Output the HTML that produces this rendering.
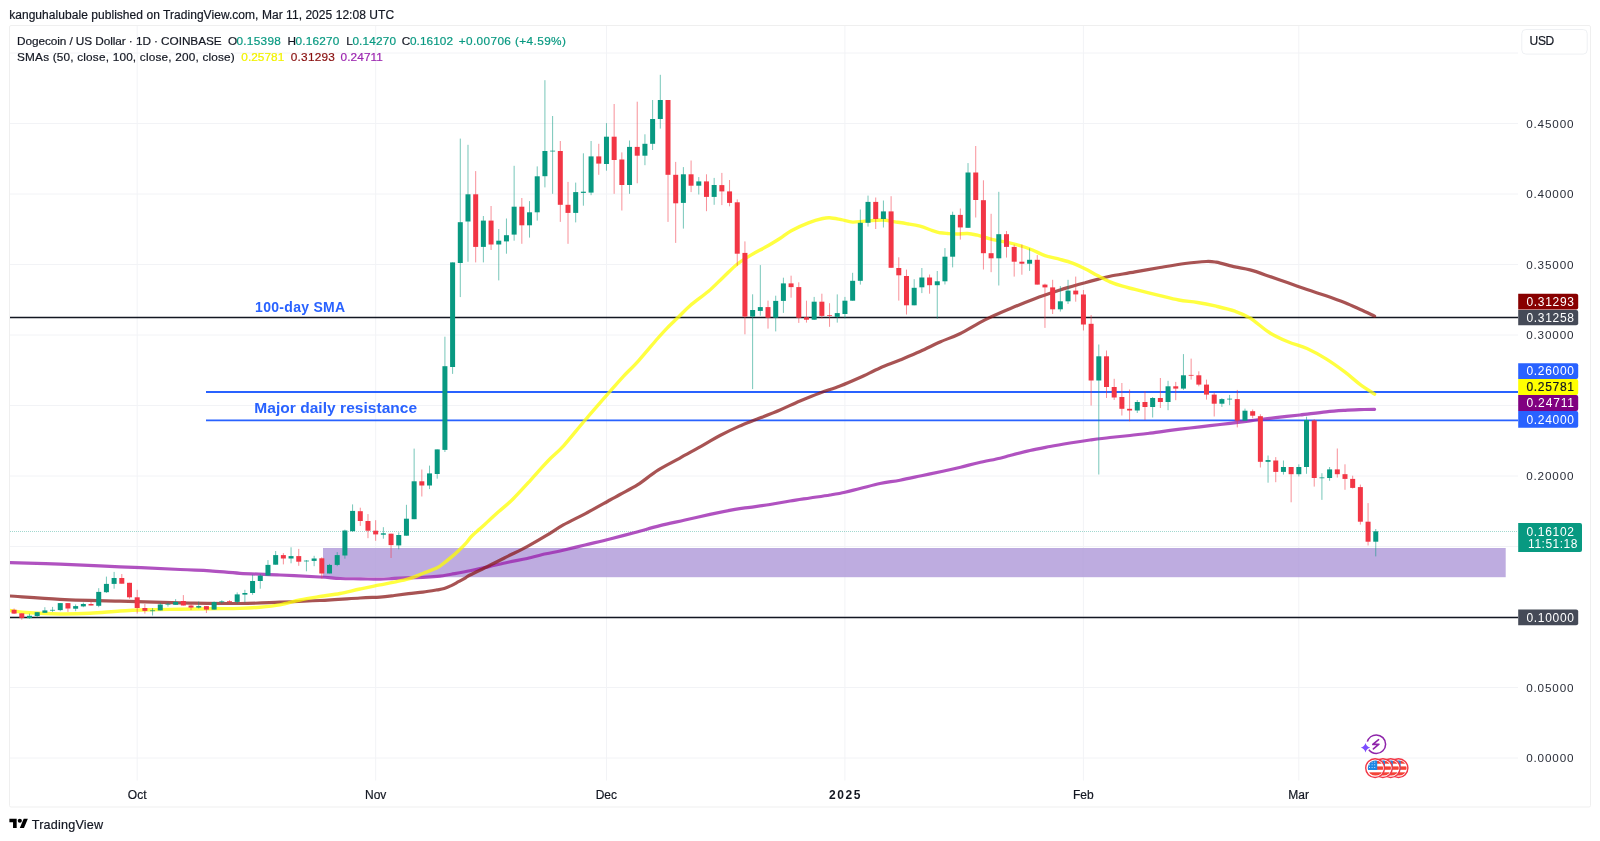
<!DOCTYPE html>
<html><head><meta charset="utf-8"><style>
html,body{margin:0;padding:0;background:#fff;width:1600px;height:841px;overflow:hidden}
svg{position:absolute;left:0;top:0;font-family:"Liberation Sans",sans-serif;will-change:transform}
</style></head><body>
<svg width="1600" height="841" viewBox="0 0 1600 841" font-family="Liberation Sans, sans-serif">
<rect x="9.5" y="25.5" width="1581" height="781.5" fill="none" stroke="#EFEFEF" stroke-width="1" rx="1.5"/>
<line x1="137.2" y1="26" x2="137.2" y2="780.5" stroke="#F2F3F6" stroke-width="1"/>
<line x1="375.7" y1="26" x2="375.7" y2="780.5" stroke="#F2F3F6" stroke-width="1"/>
<line x1="606.5" y1="26" x2="606.5" y2="780.5" stroke="#F2F3F6" stroke-width="1"/>
<line x1="844.9" y1="26" x2="844.9" y2="780.5" stroke="#F2F3F6" stroke-width="1"/>
<line x1="1083.4" y1="26" x2="1083.4" y2="780.5" stroke="#F2F3F6" stroke-width="1"/>
<line x1="1298.8" y1="26" x2="1298.8" y2="780.5" stroke="#F2F3F6" stroke-width="1"/>
<line x1="10" y1="758.0" x2="1518" y2="758.0" stroke="#F2F3F6" stroke-width="1"/>
<line x1="10" y1="687.5" x2="1518" y2="687.5" stroke="#F2F3F6" stroke-width="1"/>
<line x1="10" y1="617.0" x2="1518" y2="617.0" stroke="#F2F3F6" stroke-width="1"/>
<line x1="10" y1="546.5" x2="1518" y2="546.5" stroke="#F2F3F6" stroke-width="1"/>
<line x1="10" y1="476.0" x2="1518" y2="476.0" stroke="#F2F3F6" stroke-width="1"/>
<line x1="10" y1="405.5" x2="1518" y2="405.5" stroke="#F2F3F6" stroke-width="1"/>
<line x1="10" y1="335.0" x2="1518" y2="335.0" stroke="#F2F3F6" stroke-width="1"/>
<line x1="10" y1="264.5" x2="1518" y2="264.5" stroke="#F2F3F6" stroke-width="1"/>
<line x1="10" y1="194.0" x2="1518" y2="194.0" stroke="#F2F3F6" stroke-width="1"/>
<line x1="10" y1="123.5" x2="1518" y2="123.5" stroke="#F2F3F6" stroke-width="1"/>
<line x1="10" y1="53.0" x2="1518" y2="53.0" stroke="#F2F3F6" stroke-width="1"/>
<rect x="323" y="548" width="1182.7" height="29.2" fill="#B39DDB" fill-opacity="0.85"/>
<line x1="10" y1="317.5" x2="1518" y2="317.5" stroke="#131722" stroke-width="1.5"/>
<line x1="10" y1="617.5" x2="1518" y2="617.5" stroke="#131722" stroke-width="1.5"/>
<line x1="206" y1="392" x2="1518" y2="392" stroke="#2962FF" stroke-width="1.8"/>
<line x1="206" y1="420.3" x2="1518" y2="420.3" stroke="#2962FF" stroke-width="1.8"/>
<line x1="10" y1="531.5" x2="1518" y2="531.5" stroke="#089981" stroke-width="1" stroke-dasharray="1,1" opacity="0.38"/>
<clipPath id="plot"><rect x="10" y="26" width="1508" height="754"/></clipPath><g clip-path="url(#plot)">
<path d="M9.8,562.7 C18.1,563.0 41.6,563.5 60.0,564.2 C78.4,564.9 100.0,565.9 120.0,566.8 C140.0,567.6 165.0,568.8 180.0,569.5 C195.0,570.2 200.0,570.2 210.0,570.8 C220.0,571.4 228.3,572.6 240.0,573.3 C251.7,574.0 266.7,574.4 280.0,575.0 C293.3,575.6 310.0,576.4 320.0,577.0 C330.0,577.6 333.3,578.2 340.0,578.5 C346.7,578.8 353.3,578.7 360.0,578.8 C366.7,578.9 374.3,579.3 380.0,579.2 C385.7,579.1 389.6,578.6 394.3,578.4 C399.1,578.2 403.8,578.0 408.5,577.8 C413.2,577.6 418.0,577.6 422.8,577.4 C427.6,577.2 432.4,576.9 437.1,576.4 C441.9,575.9 445.8,575.2 451.3,574.2 C456.8,573.2 463.7,572.0 470.0,570.7 C476.3,569.4 482.6,568.0 489.0,566.6 C495.4,565.2 501.8,563.6 508.1,562.3 C514.5,560.9 520.8,559.9 527.1,558.5 C533.4,557.1 540.6,555.0 546.1,553.8 C551.6,552.5 553.5,552.5 560.0,551.0 C566.5,549.5 576.7,547.0 585.0,545.0 C593.3,543.0 601.7,541.1 610.0,539.0 C618.3,536.9 626.7,534.7 635.0,532.5 C643.3,530.3 651.7,527.7 660.0,525.6 C668.3,523.5 676.7,521.9 685.0,520.0 C693.3,518.1 701.7,516.2 710.0,514.4 C718.3,512.6 728.3,510.6 735.0,509.4 C741.7,508.2 744.2,508.1 750.0,507.3 C755.8,506.5 763.3,505.6 770.0,504.5 C776.7,503.4 783.3,502.1 790.0,501.0 C796.7,499.9 803.3,499.0 810.0,498.0 C816.7,497.0 824.2,496.0 830.0,495.0 C835.8,494.0 840.0,493.3 845.0,492.2 C850.0,491.1 854.2,489.9 860.0,488.5 C865.8,487.1 873.3,484.9 880.0,483.5 C886.7,482.1 893.1,481.5 900.0,480.2 C906.9,478.9 914.3,477.2 921.4,475.7 C928.5,474.2 936.3,472.6 942.8,471.2 C949.3,469.8 954.6,468.6 960.6,467.2 C966.6,465.8 971.9,464.2 978.5,462.7 C985.1,461.2 994.8,459.4 1000.0,458.2 C1005.2,457.0 1005.0,456.8 1010.0,455.5 C1015.0,454.2 1023.3,452.0 1030.0,450.5 C1036.7,449.0 1043.3,447.8 1050.0,446.5 C1056.7,445.2 1063.3,444.1 1070.0,443.0 C1076.7,441.9 1083.3,440.9 1090.0,440.0 C1096.7,439.1 1103.3,438.2 1110.0,437.5 C1116.7,436.8 1123.3,436.2 1130.0,435.5 C1136.7,434.8 1145.0,433.8 1150.0,433.2 C1155.0,432.6 1155.0,432.5 1160.0,431.8 C1165.0,431.1 1173.3,430.0 1180.0,429.2 C1186.7,428.4 1193.3,427.6 1200.0,426.8 C1206.7,426.0 1213.3,425.3 1220.0,424.5 C1226.7,423.7 1233.3,423.0 1240.0,422.2 C1246.7,421.4 1253.3,420.3 1260.0,419.5 C1266.7,418.7 1273.3,417.9 1280.0,417.2 C1286.7,416.4 1292.3,415.9 1300.0,415.0 C1307.7,414.1 1318.6,412.6 1326.1,411.8 C1333.6,411.0 1338.8,410.7 1345.1,410.3 C1351.4,409.9 1359.2,409.7 1364.1,409.5 C1369.0,409.3 1372.8,409.3 1374.6,409.3" fill="none" stroke="#9C27B0" stroke-opacity="0.8" stroke-width="3.2" stroke-linejoin="round" stroke-linecap="round"/>
<path d="M9.8,596.0 C18.1,596.5 41.6,598.4 60.0,599.3 C78.4,600.2 100.0,600.7 120.0,601.2 C140.0,601.8 160.0,602.4 180.0,602.8 C200.0,603.1 223.3,603.6 240.0,603.5 C256.7,603.4 266.7,602.7 280.0,602.2 C293.3,601.7 306.7,601.2 320.0,600.5 C333.3,599.8 350.0,598.6 360.0,598.0 C370.0,597.4 374.3,597.5 380.0,597.1 C385.7,596.7 389.6,596.1 394.3,595.5 C399.1,594.9 403.8,594.2 408.5,593.6 C413.2,593.0 418.0,592.7 422.8,592.1 C427.6,591.5 433.5,590.5 437.1,589.9 C440.7,589.3 441.8,589.2 444.2,588.5 C446.6,587.8 448.9,586.7 451.3,585.6 C453.7,584.5 456.1,583.0 458.5,581.7 C460.9,580.4 463.7,578.9 465.6,577.8 C467.5,576.7 466.1,577.0 470.0,575.0 C473.9,573.0 482.6,568.9 489.0,565.7 C495.4,562.6 501.8,559.3 508.1,556.1 C514.5,552.9 520.8,550.0 527.1,546.6 C533.4,543.2 540.1,539.3 546.1,535.7 C552.1,532.1 556.8,528.6 563.3,524.9 C569.8,521.2 577.2,517.9 585.0,513.8 C592.8,509.6 604.2,503.2 610.0,500.0 C615.8,496.8 615.4,497.1 620.0,494.5 C624.6,491.9 631.5,488.8 637.8,484.7 C644.1,480.6 651.0,474.6 658.0,470.2 C665.0,465.8 672.0,462.5 679.5,458.3 C687.0,454.1 696.5,449.0 703.2,445.2 C710.0,441.4 714.0,438.6 720.0,435.5 C726.0,432.4 732.8,429.1 738.9,426.4 C745.0,423.7 749.9,422.0 756.7,419.3 C763.6,416.6 772.8,413.1 780.0,410.0 C787.2,406.9 793.3,403.8 800.0,401.0 C806.7,398.2 813.3,395.5 820.0,393.0 C826.7,390.5 833.3,388.6 840.0,386.0 C846.7,383.4 853.3,380.5 860.0,377.5 C866.7,374.5 873.3,370.9 880.0,368.0 C886.7,365.1 893.3,362.8 900.0,360.0 C906.7,357.2 913.3,354.5 920.0,351.5 C926.7,348.5 933.4,345.0 940.0,342.0 C946.6,339.0 952.4,337.4 959.9,333.7 C967.4,330.0 976.6,324.1 984.9,319.9 C993.2,315.7 1001.6,312.2 1009.9,308.7 C1018.2,305.2 1026.5,301.8 1034.8,298.7 C1043.1,295.6 1053.7,292.1 1060.0,290.0 C1066.3,287.9 1068.3,287.5 1072.5,286.2 C1076.7,285.0 1080.8,283.9 1085.0,282.8 C1089.2,281.6 1093.3,280.5 1097.5,279.4 C1101.7,278.3 1103.8,277.5 1110.0,276.2 C1116.2,275.0 1126.7,273.4 1135.0,271.9 C1143.3,270.4 1151.7,268.9 1160.0,267.5 C1168.3,266.1 1177.3,264.5 1185.0,263.5 C1192.7,262.5 1201.0,261.7 1206.2,261.5 C1211.5,261.3 1211.5,261.4 1216.2,262.2 C1221.0,263.1 1229.4,265.6 1235.0,266.9 C1240.6,268.2 1244.3,268.3 1250.0,269.9 C1255.7,271.4 1262.7,274.0 1269.0,276.2 C1275.3,278.4 1281.7,280.6 1288.0,282.8 C1294.3,285.0 1300.7,287.3 1307.0,289.5 C1313.3,291.7 1319.8,293.6 1326.1,295.8 C1332.4,298.0 1339.4,300.5 1345.1,302.8 C1350.8,305.1 1355.4,307.3 1360.3,309.5 C1365.2,311.7 1372.2,315.0 1374.6,316.1" fill="none" stroke="#8B1A1A" stroke-opacity="0.75" stroke-width="3.2" stroke-linejoin="round" stroke-linecap="round"/>
<path d="M9.8,610.5 C13.1,610.9 21.6,612.2 30.0,612.8 C38.4,613.4 50.0,613.9 60.0,614.0 C70.0,614.1 80.0,613.8 90.0,613.2 C100.0,612.8 110.0,611.6 120.0,611.0 C130.0,610.4 140.0,610.1 150.0,609.8 C160.0,609.5 170.0,609.4 180.0,609.2 C190.0,609.0 200.0,608.9 210.0,608.8 C220.0,608.6 231.7,608.7 240.0,608.4 C248.3,608.1 253.3,607.8 260.0,607.2 C266.7,606.6 273.3,606.0 280.0,604.8 C286.7,603.6 293.3,601.4 300.0,600.0 C306.7,598.6 313.3,597.6 320.0,596.5 C326.7,595.4 333.3,594.8 340.0,593.5 C346.7,592.2 353.3,590.4 360.0,589.0 C366.7,587.6 374.3,586.0 380.0,584.9 C385.7,583.8 389.6,583.1 394.3,582.1 C399.1,581.1 403.8,580.3 408.5,578.9 C413.2,577.5 418.0,575.4 422.8,573.5 C427.6,571.6 433.5,569.6 437.1,567.8 C440.7,566.0 441.8,564.6 444.2,562.8 C446.6,561.0 448.9,559.1 451.3,557.1 C453.7,555.1 456.1,553.0 458.5,550.7 C460.9,548.5 463.4,546.0 465.6,543.6 C467.8,541.2 469.2,538.7 471.6,536.2 C474.0,533.7 477.0,531.4 479.9,528.8 C482.8,526.2 485.9,523.3 489.0,520.5 C492.1,517.7 494.5,515.4 498.5,511.8 C502.5,508.2 507.8,504.2 513.0,499.0 C518.2,493.8 525.8,485.4 530.0,480.8 C534.2,476.2 535.1,475.2 538.2,471.7 C541.4,468.2 544.6,464.4 548.9,460.0 C553.2,455.6 557.8,452.3 563.8,445.6 C569.8,438.9 577.6,428.9 585.2,420.0 C592.8,411.1 603.3,399.1 609.6,391.9 C615.9,384.7 618.4,381.8 623.2,376.6 C628.1,371.4 633.0,367.0 638.7,360.6 C644.4,354.2 652.9,343.9 657.6,338.5 C662.3,333.1 663.6,331.7 667.1,328.1 C670.6,324.5 674.7,320.7 678.5,317.0 C682.3,313.3 685.0,310.0 690.0,305.7 C695.0,301.4 703.0,296.0 708.5,291.3 C714.0,286.6 718.0,282.2 722.8,277.7 C727.6,273.2 732.4,268.0 737.1,264.2 C741.9,260.4 746.5,257.8 751.3,254.9 C756.0,252.1 760.8,249.8 765.6,247.1 C770.4,244.4 775.6,241.2 779.9,238.5 C784.2,235.8 786.5,233.3 791.3,230.7 C796.0,228.1 803.2,224.8 808.4,222.8 C813.6,220.8 819.1,219.3 822.7,218.5 C826.3,217.7 826.7,217.6 829.8,217.8 C832.9,218.0 837.4,219.0 841.2,219.7 C845.0,220.4 848.6,221.9 852.6,222.1 C856.6,222.3 860.4,221.4 865.4,221.1 C870.4,220.8 877.6,219.9 882.5,220.0 C887.4,220.1 890.8,221.3 895.0,221.9 C899.2,222.5 903.3,223.0 907.5,223.8 C911.7,224.5 915.8,225.1 920.0,226.2 C924.2,227.4 929.2,229.5 932.5,230.6 C935.8,231.7 937.5,232.3 940.0,232.8 C942.5,233.2 944.6,233.3 947.5,233.5 C950.4,233.7 954.2,234.0 957.5,234.0 C960.8,234.0 964.2,233.3 967.5,233.5 C970.8,233.7 973.8,234.4 977.5,235.2 C981.2,236.1 985.0,237.5 990.0,238.8 C995.0,240.0 1002.5,241.4 1007.5,242.5 C1012.5,243.6 1015.8,244.3 1020.0,245.6 C1024.2,246.8 1028.3,248.3 1032.5,250.0 C1036.7,251.7 1040.4,254.0 1045.0,255.6 C1049.6,257.2 1055.4,258.1 1060.0,259.4 C1064.6,260.6 1068.3,261.5 1072.5,263.1 C1076.7,264.7 1080.8,266.7 1085.0,268.8 C1089.2,270.8 1093.3,273.4 1097.5,275.6 C1101.7,277.8 1105.8,280.1 1110.0,281.9 C1114.2,283.7 1118.3,285.0 1122.5,286.2 C1126.7,287.5 1128.8,287.8 1135.0,289.4 C1141.2,291.0 1152.7,293.8 1160.0,295.6 C1167.3,297.4 1172.5,298.9 1178.8,300.0 C1185.0,301.1 1191.2,301.5 1197.5,302.5 C1203.8,303.5 1210.0,304.8 1216.2,306.2 C1222.5,307.7 1229.4,309.3 1235.0,311.2 C1240.6,313.2 1244.3,314.5 1250.0,318.0 C1255.7,321.5 1262.7,328.3 1269.0,332.3 C1275.3,336.3 1281.7,339.1 1288.0,341.8 C1294.3,344.5 1300.7,345.6 1307.0,348.5 C1313.3,351.4 1319.8,354.9 1326.1,358.9 C1332.4,362.8 1339.4,367.9 1345.1,372.2 C1350.8,376.5 1355.4,381.0 1360.3,384.6 C1365.2,388.2 1372.2,392.5 1374.6,394.1" fill="none" stroke="#FFFF00" stroke-opacity="0.75" stroke-width="3.4" stroke-linejoin="round" stroke-linecap="round"/>
<line x1="14.10" y1="608.5" x2="14.10" y2="614.0" stroke="#F23645" stroke-width="1" opacity="0.55"/>
<rect x="11.60" y="609.8" width="5.0" height="3.8" fill="#F23645"/>
<line x1="21.79" y1="613.3" x2="21.79" y2="619.7" stroke="#F23645" stroke-width="1" opacity="0.55"/>
<rect x="19.29" y="613.3" width="5.0" height="4.6" fill="#F23645"/>
<line x1="29.49" y1="613.6" x2="29.49" y2="618.7" stroke="#089981" stroke-width="1" opacity="0.55"/>
<rect x="26.99" y="615.8" width="5.0" height="2.3" fill="#089981"/>
<line x1="37.18" y1="612.2" x2="37.18" y2="617.3" stroke="#089981" stroke-width="1" opacity="0.55"/>
<rect x="34.68" y="612.2" width="5.0" height="3.8" fill="#089981"/>
<line x1="44.87" y1="607.2" x2="44.87" y2="612.8" stroke="#089981" stroke-width="1" opacity="0.55"/>
<rect x="42.37" y="610.4" width="5.0" height="2.4" fill="#089981"/>
<line x1="52.56" y1="606.9" x2="52.56" y2="611.9" stroke="#089981" stroke-width="1" opacity="0.55"/>
<rect x="50.06" y="609.8" width="5.0" height="1" fill="#089981" opacity="0.75"/>
<line x1="60.26" y1="603.1" x2="60.26" y2="611.2" stroke="#089981" stroke-width="1" opacity="0.55"/>
<rect x="57.76" y="603.1" width="5.0" height="7.0" fill="#089981"/>
<line x1="67.95" y1="603.1" x2="67.95" y2="611.9" stroke="#F23645" stroke-width="1" opacity="0.55"/>
<rect x="65.45" y="603.1" width="5.0" height="5.4" fill="#F23645"/>
<line x1="75.64" y1="604.4" x2="75.64" y2="611.2" stroke="#089981" stroke-width="1" opacity="0.55"/>
<rect x="73.14" y="606.1" width="5.0" height="2.6" fill="#089981"/>
<line x1="83.34" y1="602.6" x2="83.34" y2="607.2" stroke="#089981" stroke-width="1" opacity="0.55"/>
<rect x="80.84" y="604.0" width="5.0" height="2.4" fill="#089981"/>
<line x1="91.03" y1="601.5" x2="91.03" y2="605.5" stroke="#F23645" stroke-width="1" opacity="0.55"/>
<rect x="88.53" y="604.0" width="5.0" height="1.5" fill="#F23645"/>
<line x1="98.72" y1="588.2" x2="98.72" y2="607.2" stroke="#089981" stroke-width="1" opacity="0.55"/>
<rect x="96.22" y="591.9" width="5.0" height="13.9" fill="#089981"/>
<line x1="106.42" y1="576.6" x2="106.42" y2="593.0" stroke="#089981" stroke-width="1" opacity="0.55"/>
<rect x="103.92" y="583.9" width="5.0" height="8.3" fill="#089981"/>
<line x1="114.11" y1="571.9" x2="114.11" y2="588.7" stroke="#089981" stroke-width="1" opacity="0.55"/>
<rect x="111.61" y="578.0" width="5.0" height="5.9" fill="#089981"/>
<line x1="121.80" y1="574.0" x2="121.80" y2="583.7" stroke="#F23645" stroke-width="1" opacity="0.55"/>
<rect x="119.30" y="578.0" width="5.0" height="5.7" fill="#F23645"/>
<line x1="129.50" y1="582.8" x2="129.50" y2="598.7" stroke="#F23645" stroke-width="1" opacity="0.55"/>
<rect x="127.00" y="582.8" width="5.0" height="14.5" fill="#F23645"/>
<line x1="137.19" y1="589.8" x2="137.19" y2="613.6" stroke="#F23645" stroke-width="1" opacity="0.55"/>
<rect x="134.69" y="597.3" width="5.0" height="10.7" fill="#F23645"/>
<line x1="144.88" y1="604.0" x2="144.88" y2="613.6" stroke="#F23645" stroke-width="1" opacity="0.55"/>
<rect x="142.38" y="608.0" width="5.0" height="2.9" fill="#F23645"/>
<line x1="152.57" y1="608.0" x2="152.57" y2="615.5" stroke="#089981" stroke-width="1" opacity="0.55"/>
<rect x="150.07" y="610.2" width="5.0" height="1" fill="#089981" opacity="0.75"/>
<line x1="160.27" y1="602.6" x2="160.27" y2="610.4" stroke="#089981" stroke-width="1" opacity="0.55"/>
<rect x="157.77" y="604.5" width="5.0" height="5.9" fill="#089981"/>
<line x1="167.96" y1="602.6" x2="167.96" y2="606.6" stroke="#089981" stroke-width="1" opacity="0.55"/>
<rect x="165.46" y="603.8" width="5.0" height="1" fill="#089981" opacity="0.75"/>
<line x1="175.65" y1="599.1" x2="175.65" y2="604.8" stroke="#089981" stroke-width="1" opacity="0.55"/>
<rect x="173.15" y="601.9" width="5.0" height="2.9" fill="#089981"/>
<line x1="183.35" y1="595.1" x2="183.35" y2="605.5" stroke="#F23645" stroke-width="1" opacity="0.55"/>
<rect x="180.85" y="601.0" width="5.0" height="4.5" fill="#F23645"/>
<line x1="191.04" y1="604.2" x2="191.04" y2="610.1" stroke="#F23645" stroke-width="1" opacity="0.55"/>
<rect x="188.54" y="605.5" width="5.0" height="2.1" fill="#F23645"/>
<line x1="198.73" y1="601.5" x2="198.73" y2="608.5" stroke="#089981" stroke-width="1" opacity="0.55"/>
<rect x="196.23" y="606.1" width="5.0" height="1.5" fill="#089981"/>
<line x1="206.42" y1="606.1" x2="206.42" y2="613.0" stroke="#F23645" stroke-width="1" opacity="0.55"/>
<rect x="203.92" y="606.1" width="5.0" height="3.5" fill="#F23645"/>
<line x1="214.12" y1="601.5" x2="214.12" y2="609.6" stroke="#089981" stroke-width="1" opacity="0.55"/>
<rect x="211.62" y="602.1" width="5.0" height="7.5" fill="#089981"/>
<line x1="221.81" y1="600.2" x2="221.81" y2="603.7" stroke="#089981" stroke-width="1" opacity="0.55"/>
<rect x="219.31" y="601.2" width="5.0" height="1" fill="#089981" opacity="0.75"/>
<line x1="229.50" y1="600.2" x2="229.50" y2="604.0" stroke="#F23645" stroke-width="1" opacity="0.55"/>
<rect x="227.00" y="601.0" width="5.0" height="1" fill="#F23645" opacity="0.75"/>
<line x1="237.20" y1="592.4" x2="237.20" y2="604.0" stroke="#089981" stroke-width="1" opacity="0.55"/>
<rect x="234.70" y="594.4" width="5.0" height="7.5" fill="#089981"/>
<line x1="244.89" y1="589.8" x2="244.89" y2="602.6" stroke="#089981" stroke-width="1" opacity="0.55"/>
<rect x="242.39" y="593.0" width="5.0" height="1.6" fill="#089981"/>
<line x1="252.58" y1="574.8" x2="252.58" y2="594.8" stroke="#089981" stroke-width="1" opacity="0.55"/>
<rect x="250.08" y="581.0" width="5.0" height="12.0" fill="#089981"/>
<line x1="260.28" y1="574.0" x2="260.28" y2="588.7" stroke="#089981" stroke-width="1" opacity="0.55"/>
<rect x="257.78" y="575.6" width="5.0" height="5.4" fill="#089981"/>
<line x1="267.97" y1="560.1" x2="267.97" y2="575.6" stroke="#089981" stroke-width="1" opacity="0.55"/>
<rect x="265.47" y="564.9" width="5.0" height="10.7" fill="#089981"/>
<line x1="275.66" y1="551.0" x2="275.66" y2="564.7" stroke="#089981" stroke-width="1" opacity="0.55"/>
<rect x="273.16" y="555.1" width="5.0" height="9.6" fill="#089981"/>
<line x1="283.36" y1="553.1" x2="283.36" y2="564.4" stroke="#F23645" stroke-width="1" opacity="0.55"/>
<rect x="280.86" y="555.1" width="5.0" height="3.4" fill="#F23645"/>
<line x1="291.05" y1="547.3" x2="291.05" y2="563.3" stroke="#089981" stroke-width="1" opacity="0.55"/>
<rect x="288.55" y="556.1" width="5.0" height="2.4" fill="#089981"/>
<line x1="298.74" y1="548.9" x2="298.74" y2="565.8" stroke="#F23645" stroke-width="1" opacity="0.55"/>
<rect x="296.24" y="556.1" width="5.0" height="5.6" fill="#F23645"/>
<line x1="306.43" y1="560.0" x2="306.43" y2="571.3" stroke="#089981" stroke-width="1" opacity="0.55"/>
<rect x="303.93" y="560.5" width="5.0" height="1" fill="#089981" opacity="0.75"/>
<line x1="314.13" y1="555.8" x2="314.13" y2="566.2" stroke="#089981" stroke-width="1" opacity="0.55"/>
<rect x="311.63" y="558.5" width="5.0" height="2.4" fill="#089981"/>
<line x1="321.82" y1="557.2" x2="321.82" y2="578.6" stroke="#F23645" stroke-width="1" opacity="0.55"/>
<rect x="319.32" y="558.3" width="5.0" height="15.2" fill="#F23645"/>
<line x1="329.51" y1="563.9" x2="329.51" y2="573.5" stroke="#089981" stroke-width="1" opacity="0.55"/>
<rect x="327.01" y="564.9" width="5.0" height="8.6" fill="#089981"/>
<line x1="337.21" y1="552.1" x2="337.21" y2="566.2" stroke="#089981" stroke-width="1" opacity="0.55"/>
<rect x="334.71" y="555.1" width="5.0" height="9.8" fill="#089981"/>
<line x1="344.90" y1="529.6" x2="344.90" y2="558.7" stroke="#089981" stroke-width="1" opacity="0.55"/>
<rect x="342.40" y="530.5" width="5.0" height="25.0" fill="#089981"/>
<line x1="352.59" y1="504.4" x2="352.59" y2="531.8" stroke="#089981" stroke-width="1" opacity="0.55"/>
<rect x="350.09" y="510.9" width="5.0" height="20.3" fill="#089981"/>
<line x1="360.29" y1="507.7" x2="360.29" y2="525.9" stroke="#F23645" stroke-width="1" opacity="0.55"/>
<rect x="357.79" y="511.2" width="5.0" height="9.8" fill="#F23645"/>
<line x1="367.98" y1="514.1" x2="367.98" y2="538.2" stroke="#F23645" stroke-width="1" opacity="0.55"/>
<rect x="365.48" y="521.0" width="5.0" height="9.7" fill="#F23645"/>
<line x1="375.67" y1="520.2" x2="375.67" y2="540.8" stroke="#F23645" stroke-width="1" opacity="0.55"/>
<rect x="373.17" y="530.7" width="5.0" height="3.7" fill="#F23645"/>
<line x1="383.36" y1="527.2" x2="383.36" y2="538.7" stroke="#089981" stroke-width="1" opacity="0.55"/>
<rect x="380.86" y="533.3" width="5.0" height="1.4" fill="#089981"/>
<line x1="391.06" y1="533.7" x2="391.06" y2="558.0" stroke="#F23645" stroke-width="1" opacity="0.55"/>
<rect x="388.56" y="533.7" width="5.0" height="11.4" fill="#F23645"/>
<line x1="398.75" y1="532.3" x2="398.75" y2="549.3" stroke="#089981" stroke-width="1" opacity="0.55"/>
<rect x="396.25" y="535.0" width="5.0" height="10.4" fill="#089981"/>
<line x1="406.44" y1="504.8" x2="406.44" y2="535.7" stroke="#089981" stroke-width="1" opacity="0.55"/>
<rect x="403.94" y="518.7" width="5.0" height="17.0" fill="#089981"/>
<line x1="414.14" y1="448.6" x2="414.14" y2="519.2" stroke="#089981" stroke-width="1" opacity="0.55"/>
<rect x="411.64" y="481.3" width="5.0" height="37.9" fill="#089981"/>
<line x1="421.83" y1="469.5" x2="421.83" y2="496.5" stroke="#F23645" stroke-width="1" opacity="0.55"/>
<rect x="419.33" y="481.3" width="5.0" height="4.2" fill="#F23645"/>
<line x1="429.52" y1="465.6" x2="429.52" y2="489.1" stroke="#089981" stroke-width="1" opacity="0.55"/>
<rect x="427.02" y="473.4" width="5.0" height="12.1" fill="#089981"/>
<line x1="437.21" y1="449.4" x2="437.21" y2="478.7" stroke="#089981" stroke-width="1" opacity="0.55"/>
<rect x="434.71" y="449.4" width="5.0" height="24.6" fill="#089981"/>
<line x1="444.91" y1="336.7" x2="444.91" y2="452.0" stroke="#089981" stroke-width="1" opacity="0.55"/>
<rect x="442.41" y="366.2" width="5.0" height="83.7" fill="#089981"/>
<line x1="452.60" y1="262.4" x2="452.60" y2="373.9" stroke="#089981" stroke-width="1" opacity="0.55"/>
<rect x="450.10" y="262.4" width="5.0" height="104.6" fill="#089981"/>
<line x1="460.29" y1="138.6" x2="460.29" y2="297.1" stroke="#089981" stroke-width="1" opacity="0.55"/>
<rect x="457.79" y="222.2" width="5.0" height="40.8" fill="#089981"/>
<line x1="467.99" y1="144.8" x2="467.99" y2="261.8" stroke="#089981" stroke-width="1" opacity="0.55"/>
<rect x="465.49" y="194.3" width="5.0" height="27.2" fill="#089981"/>
<line x1="475.68" y1="171.1" x2="475.68" y2="262.4" stroke="#F23645" stroke-width="1" opacity="0.55"/>
<rect x="473.18" y="194.3" width="5.0" height="52.6" fill="#F23645"/>
<line x1="483.37" y1="216.0" x2="483.37" y2="262.4" stroke="#089981" stroke-width="1" opacity="0.55"/>
<rect x="480.87" y="220.6" width="5.0" height="26.3" fill="#089981"/>
<line x1="491.07" y1="206.0" x2="491.07" y2="250.0" stroke="#F23645" stroke-width="1" opacity="0.55"/>
<rect x="488.57" y="220.6" width="5.0" height="23.9" fill="#F23645"/>
<line x1="498.76" y1="229.0" x2="498.76" y2="280.4" stroke="#089981" stroke-width="1" opacity="0.55"/>
<rect x="496.26" y="240.7" width="5.0" height="3.8" fill="#089981"/>
<line x1="506.45" y1="218.5" x2="506.45" y2="253.7" stroke="#089981" stroke-width="1" opacity="0.55"/>
<rect x="503.95" y="235.2" width="5.0" height="6.2" fill="#089981"/>
<line x1="514.14" y1="165.8" x2="514.14" y2="240.7" stroke="#089981" stroke-width="1" opacity="0.55"/>
<rect x="511.64" y="206.7" width="5.0" height="27.9" fill="#089981"/>
<line x1="521.84" y1="198.0" x2="521.84" y2="243.8" stroke="#F23645" stroke-width="1" opacity="0.55"/>
<rect x="519.34" y="206.7" width="5.0" height="18.6" fill="#F23645"/>
<line x1="529.53" y1="201.1" x2="529.53" y2="237.6" stroke="#089981" stroke-width="1" opacity="0.55"/>
<rect x="527.03" y="212.3" width="5.0" height="13.0" fill="#089981"/>
<line x1="537.22" y1="166.4" x2="537.22" y2="220.6" stroke="#089981" stroke-width="1" opacity="0.55"/>
<rect x="534.72" y="176.3" width="5.0" height="36.0" fill="#089981"/>
<line x1="544.92" y1="80.2" x2="544.92" y2="187.4" stroke="#089981" stroke-width="1" opacity="0.55"/>
<rect x="542.42" y="151.0" width="5.0" height="25.2" fill="#089981"/>
<line x1="552.61" y1="116.0" x2="552.61" y2="193.8" stroke="#089981" stroke-width="1" opacity="0.55"/>
<rect x="550.11" y="150.6" width="5.0" height="1" fill="#089981" opacity="0.75"/>
<line x1="560.30" y1="141.0" x2="560.30" y2="221.9" stroke="#F23645" stroke-width="1" opacity="0.55"/>
<rect x="557.80" y="151.0" width="5.0" height="53.8" fill="#F23645"/>
<line x1="568.00" y1="181.9" x2="568.00" y2="243.8" stroke="#F23645" stroke-width="1" opacity="0.55"/>
<rect x="565.50" y="204.8" width="5.0" height="8.1" fill="#F23645"/>
<line x1="575.69" y1="182.6" x2="575.69" y2="222.4" stroke="#089981" stroke-width="1" opacity="0.55"/>
<rect x="573.19" y="192.1" width="5.0" height="20.8" fill="#089981"/>
<line x1="583.38" y1="153.3" x2="583.38" y2="205.7" stroke="#089981" stroke-width="1" opacity="0.55"/>
<rect x="580.88" y="191.7" width="5.0" height="1.2" fill="#089981"/>
<line x1="591.08" y1="141.0" x2="591.08" y2="195.2" stroke="#089981" stroke-width="1" opacity="0.55"/>
<rect x="588.58" y="156.4" width="5.0" height="36.2" fill="#089981"/>
<line x1="598.77" y1="143.8" x2="598.77" y2="174.8" stroke="#F23645" stroke-width="1" opacity="0.55"/>
<rect x="596.27" y="156.4" width="5.0" height="7.2" fill="#F23645"/>
<line x1="606.46" y1="123.1" x2="606.46" y2="170.7" stroke="#089981" stroke-width="1" opacity="0.55"/>
<rect x="603.96" y="136.7" width="5.0" height="27.3" fill="#089981"/>
<line x1="614.15" y1="104.0" x2="614.15" y2="193.8" stroke="#F23645" stroke-width="1" opacity="0.55"/>
<rect x="611.65" y="136.7" width="5.0" height="23.3" fill="#F23645"/>
<line x1="621.85" y1="152.4" x2="621.85" y2="210.5" stroke="#F23645" stroke-width="1" opacity="0.55"/>
<rect x="619.35" y="159.5" width="5.0" height="25.5" fill="#F23645"/>
<line x1="629.54" y1="140.5" x2="629.54" y2="193.8" stroke="#089981" stroke-width="1" opacity="0.55"/>
<rect x="627.04" y="146.9" width="5.0" height="38.1" fill="#089981"/>
<line x1="637.23" y1="101.7" x2="637.23" y2="183.3" stroke="#F23645" stroke-width="1" opacity="0.55"/>
<rect x="634.73" y="146.9" width="5.0" height="8.8" fill="#F23645"/>
<line x1="644.93" y1="134.3" x2="644.93" y2="165.2" stroke="#089981" stroke-width="1" opacity="0.55"/>
<rect x="642.43" y="143.8" width="5.0" height="11.9" fill="#089981"/>
<line x1="652.62" y1="100.0" x2="652.62" y2="150.0" stroke="#089981" stroke-width="1" opacity="0.55"/>
<rect x="650.12" y="119.0" width="5.0" height="24.8" fill="#089981"/>
<line x1="660.31" y1="74.8" x2="660.31" y2="128.6" stroke="#089981" stroke-width="1" opacity="0.55"/>
<rect x="657.81" y="100.0" width="5.0" height="19.0" fill="#089981"/>
<line x1="668.00" y1="100.0" x2="668.00" y2="221.9" stroke="#F23645" stroke-width="1" opacity="0.55"/>
<rect x="665.50" y="100.0" width="5.0" height="74.8" fill="#F23645"/>
<line x1="675.70" y1="161.9" x2="675.70" y2="242.9" stroke="#F23645" stroke-width="1" opacity="0.55"/>
<rect x="673.20" y="174.8" width="5.0" height="28.5" fill="#F23645"/>
<line x1="683.39" y1="167.1" x2="683.39" y2="228.6" stroke="#089981" stroke-width="1" opacity="0.55"/>
<rect x="680.89" y="174.3" width="5.0" height="28.6" fill="#089981"/>
<line x1="691.08" y1="160.5" x2="691.08" y2="192.1" stroke="#F23645" stroke-width="1" opacity="0.55"/>
<rect x="688.58" y="174.3" width="5.0" height="11.4" fill="#F23645"/>
<line x1="698.78" y1="177.1" x2="698.78" y2="194.5" stroke="#089981" stroke-width="1" opacity="0.55"/>
<rect x="696.28" y="181.4" width="5.0" height="4.3" fill="#089981"/>
<line x1="706.47" y1="174.3" x2="706.47" y2="211.2" stroke="#F23645" stroke-width="1" opacity="0.55"/>
<rect x="703.97" y="181.4" width="5.0" height="15.5" fill="#F23645"/>
<line x1="714.16" y1="177.9" x2="714.16" y2="204.8" stroke="#089981" stroke-width="1" opacity="0.55"/>
<rect x="711.66" y="185.0" width="5.0" height="11.9" fill="#089981"/>
<line x1="721.86" y1="172.9" x2="721.86" y2="205.1" stroke="#F23645" stroke-width="1" opacity="0.55"/>
<rect x="719.36" y="185.1" width="5.0" height="6.3" fill="#F23645"/>
<line x1="729.55" y1="180.0" x2="729.55" y2="206.3" stroke="#F23645" stroke-width="1" opacity="0.55"/>
<rect x="727.05" y="191.4" width="5.0" height="11.5" fill="#F23645"/>
<line x1="737.24" y1="199.4" x2="737.24" y2="265.7" stroke="#F23645" stroke-width="1" opacity="0.55"/>
<rect x="734.74" y="202.3" width="5.0" height="51.4" fill="#F23645"/>
<line x1="744.93" y1="241.4" x2="744.93" y2="334.3" stroke="#F23645" stroke-width="1" opacity="0.55"/>
<rect x="742.43" y="252.9" width="5.0" height="63.7" fill="#F23645"/>
<line x1="752.63" y1="294.3" x2="752.63" y2="389.1" stroke="#089981" stroke-width="1" opacity="0.55"/>
<rect x="750.13" y="310.0" width="5.0" height="6.6" fill="#089981"/>
<line x1="760.32" y1="265.1" x2="760.32" y2="315.7" stroke="#089981" stroke-width="1" opacity="0.55"/>
<rect x="757.82" y="307.1" width="5.0" height="3.8" fill="#089981"/>
<line x1="768.01" y1="300.6" x2="768.01" y2="328.6" stroke="#F23645" stroke-width="1" opacity="0.55"/>
<rect x="765.51" y="307.1" width="5.0" height="10.6" fill="#F23645"/>
<line x1="775.71" y1="295.7" x2="775.71" y2="331.4" stroke="#089981" stroke-width="1" opacity="0.55"/>
<rect x="773.21" y="300.9" width="5.0" height="16.8" fill="#089981"/>
<line x1="783.40" y1="277.7" x2="783.40" y2="312.9" stroke="#089981" stroke-width="1" opacity="0.55"/>
<rect x="780.90" y="283.4" width="5.0" height="17.5" fill="#089981"/>
<line x1="791.09" y1="275.7" x2="791.09" y2="297.7" stroke="#F23645" stroke-width="1" opacity="0.55"/>
<rect x="788.59" y="283.4" width="5.0" height="3.7" fill="#F23645"/>
<line x1="798.79" y1="282.3" x2="798.79" y2="322.9" stroke="#F23645" stroke-width="1" opacity="0.55"/>
<rect x="796.29" y="287.1" width="5.0" height="30.6" fill="#F23645"/>
<line x1="806.48" y1="300.7" x2="806.48" y2="322.6" stroke="#F23645" stroke-width="1" opacity="0.55"/>
<rect x="803.98" y="317.3" width="5.0" height="2.4" fill="#F23645"/>
<line x1="814.17" y1="296.9" x2="814.17" y2="320.0" stroke="#089981" stroke-width="1" opacity="0.55"/>
<rect x="811.67" y="301.7" width="5.0" height="18.0" fill="#089981"/>
<line x1="821.87" y1="293.7" x2="821.87" y2="318.4" stroke="#F23645" stroke-width="1" opacity="0.55"/>
<rect x="819.37" y="301.7" width="5.0" height="14.2" fill="#F23645"/>
<line x1="829.56" y1="303.2" x2="829.56" y2="326.8" stroke="#F23645" stroke-width="1" opacity="0.55"/>
<rect x="827.06" y="315.0" width="5.0" height="1" fill="#F23645" opacity="0.75"/>
<line x1="837.25" y1="294.4" x2="837.25" y2="322.6" stroke="#089981" stroke-width="1" opacity="0.55"/>
<rect x="834.75" y="313.1" width="5.0" height="3.8" fill="#089981"/>
<line x1="844.94" y1="296.9" x2="844.94" y2="318.4" stroke="#089981" stroke-width="1" opacity="0.55"/>
<rect x="842.44" y="300.7" width="5.0" height="13.3" fill="#089981"/>
<line x1="852.64" y1="272.8" x2="852.64" y2="300.7" stroke="#089981" stroke-width="1" opacity="0.55"/>
<rect x="850.14" y="280.8" width="5.0" height="19.9" fill="#089981"/>
<line x1="860.33" y1="209.5" x2="860.33" y2="284.6" stroke="#089981" stroke-width="1" opacity="0.55"/>
<rect x="857.83" y="222.8" width="5.0" height="58.0" fill="#089981"/>
<line x1="868.02" y1="195.6" x2="868.02" y2="226.6" stroke="#089981" stroke-width="1" opacity="0.55"/>
<rect x="865.52" y="201.9" width="5.0" height="20.9" fill="#089981"/>
<line x1="875.72" y1="197.5" x2="875.72" y2="229.0" stroke="#F23645" stroke-width="1" opacity="0.55"/>
<rect x="873.22" y="201.9" width="5.0" height="17.1" fill="#F23645"/>
<line x1="883.41" y1="200.5" x2="883.41" y2="227.5" stroke="#089981" stroke-width="1" opacity="0.55"/>
<rect x="880.91" y="211.4" width="5.0" height="7.6" fill="#089981"/>
<line x1="891.10" y1="196.2" x2="891.10" y2="268.0" stroke="#F23645" stroke-width="1" opacity="0.55"/>
<rect x="888.60" y="211.4" width="5.0" height="56.4" fill="#F23645"/>
<line x1="898.79" y1="257.3" x2="898.79" y2="300.6" stroke="#F23645" stroke-width="1" opacity="0.55"/>
<rect x="896.29" y="268.0" width="5.0" height="7.3" fill="#F23645"/>
<line x1="906.49" y1="269.6" x2="906.49" y2="314.5" stroke="#F23645" stroke-width="1" opacity="0.55"/>
<rect x="903.99" y="276.0" width="5.0" height="29.3" fill="#F23645"/>
<line x1="914.18" y1="279.2" x2="914.18" y2="305.3" stroke="#089981" stroke-width="1" opacity="0.55"/>
<rect x="911.68" y="287.8" width="5.0" height="17.5" fill="#089981"/>
<line x1="921.87" y1="268.0" x2="921.87" y2="293.1" stroke="#089981" stroke-width="1" opacity="0.55"/>
<rect x="919.37" y="277.5" width="5.0" height="9.8" fill="#089981"/>
<line x1="929.57" y1="274.5" x2="929.57" y2="293.7" stroke="#F23645" stroke-width="1" opacity="0.55"/>
<rect x="927.07" y="277.5" width="5.0" height="7.7" fill="#F23645"/>
<line x1="937.26" y1="271.0" x2="937.26" y2="318.8" stroke="#089981" stroke-width="1" opacity="0.55"/>
<rect x="934.76" y="281.3" width="5.0" height="3.9" fill="#089981"/>
<line x1="944.95" y1="248.1" x2="944.95" y2="284.5" stroke="#089981" stroke-width="1" opacity="0.55"/>
<rect x="942.45" y="256.7" width="5.0" height="24.6" fill="#089981"/>
<line x1="952.65" y1="211.7" x2="952.65" y2="267.4" stroke="#089981" stroke-width="1" opacity="0.55"/>
<rect x="950.15" y="214.9" width="5.0" height="41.8" fill="#089981"/>
<line x1="960.34" y1="208.5" x2="960.34" y2="239.6" stroke="#F23645" stroke-width="1" opacity="0.55"/>
<rect x="957.84" y="214.9" width="5.0" height="12.5" fill="#F23645"/>
<line x1="968.03" y1="163.1" x2="968.03" y2="227.8" stroke="#089981" stroke-width="1" opacity="0.55"/>
<rect x="965.53" y="172.5" width="5.0" height="55.3" fill="#089981"/>
<line x1="975.73" y1="146.0" x2="975.73" y2="217.5" stroke="#F23645" stroke-width="1" opacity="0.55"/>
<rect x="973.23" y="172.5" width="5.0" height="27.5" fill="#F23645"/>
<line x1="983.42" y1="180.3" x2="983.42" y2="269.5" stroke="#F23645" stroke-width="1" opacity="0.55"/>
<rect x="980.92" y="200.2" width="5.0" height="53.0" fill="#F23645"/>
<line x1="991.11" y1="213.8" x2="991.11" y2="272.2" stroke="#F23645" stroke-width="1" opacity="0.55"/>
<rect x="988.61" y="253.2" width="5.0" height="5.1" fill="#F23645"/>
<line x1="998.80" y1="191.8" x2="998.80" y2="285.5" stroke="#089981" stroke-width="1" opacity="0.55"/>
<rect x="996.30" y="234.2" width="5.0" height="24.1" fill="#089981"/>
<line x1="1006.50" y1="231.0" x2="1006.50" y2="257.6" stroke="#F23645" stroke-width="1" opacity="0.55"/>
<rect x="1004.00" y="234.2" width="5.0" height="12.7" fill="#F23645"/>
<line x1="1014.19" y1="244.6" x2="1014.19" y2="276.6" stroke="#F23645" stroke-width="1" opacity="0.55"/>
<rect x="1011.69" y="246.9" width="5.0" height="14.8" fill="#F23645"/>
<line x1="1021.88" y1="244.6" x2="1021.88" y2="274.7" stroke="#F23645" stroke-width="1" opacity="0.55"/>
<rect x="1019.38" y="261.7" width="5.0" height="2.0" fill="#F23645"/>
<line x1="1029.58" y1="248.4" x2="1029.58" y2="270.9" stroke="#089981" stroke-width="1" opacity="0.55"/>
<rect x="1027.08" y="259.8" width="5.0" height="3.9" fill="#089981"/>
<line x1="1037.27" y1="255.1" x2="1037.27" y2="284.6" stroke="#F23645" stroke-width="1" opacity="0.55"/>
<rect x="1034.77" y="259.8" width="5.0" height="24.8" fill="#F23645"/>
<line x1="1044.96" y1="283.6" x2="1044.96" y2="327.9" stroke="#F23645" stroke-width="1" opacity="0.55"/>
<rect x="1042.46" y="284.6" width="5.0" height="2.8" fill="#F23645"/>
<line x1="1052.65" y1="279.8" x2="1052.65" y2="314.0" stroke="#F23645" stroke-width="1" opacity="0.55"/>
<rect x="1050.15" y="287.4" width="5.0" height="21.9" fill="#F23645"/>
<line x1="1060.35" y1="286.1" x2="1060.35" y2="311.6" stroke="#089981" stroke-width="1" opacity="0.55"/>
<rect x="1057.85" y="301.3" width="5.0" height="8.0" fill="#089981"/>
<line x1="1068.04" y1="279.8" x2="1068.04" y2="304.0" stroke="#089981" stroke-width="1" opacity="0.55"/>
<rect x="1065.54" y="290.6" width="5.0" height="10.7" fill="#089981"/>
<line x1="1075.73" y1="276.6" x2="1075.73" y2="301.7" stroke="#F23645" stroke-width="1" opacity="0.55"/>
<rect x="1073.23" y="290.6" width="5.0" height="3.8" fill="#F23645"/>
<line x1="1083.43" y1="290.0" x2="1083.43" y2="330.5" stroke="#F23645" stroke-width="1" opacity="0.55"/>
<rect x="1080.93" y="294.5" width="5.0" height="30.0" fill="#F23645"/>
<line x1="1091.12" y1="315.0" x2="1091.12" y2="405.5" stroke="#F23645" stroke-width="1" opacity="0.55"/>
<rect x="1088.62" y="323.8" width="5.0" height="56.7" fill="#F23645"/>
<line x1="1098.81" y1="344.5" x2="1098.81" y2="474.5" stroke="#089981" stroke-width="1" opacity="0.55"/>
<rect x="1096.31" y="356.3" width="5.0" height="24.2" fill="#089981"/>
<line x1="1106.51" y1="350.5" x2="1106.51" y2="398.0" stroke="#F23645" stroke-width="1" opacity="0.55"/>
<rect x="1104.01" y="356.3" width="5.0" height="30.7" fill="#F23645"/>
<line x1="1114.20" y1="378.8" x2="1114.20" y2="400.0" stroke="#F23645" stroke-width="1" opacity="0.55"/>
<rect x="1111.70" y="387.0" width="5.0" height="10.5" fill="#F23645"/>
<line x1="1121.89" y1="383.0" x2="1121.89" y2="415.5" stroke="#F23645" stroke-width="1" opacity="0.55"/>
<rect x="1119.39" y="397.0" width="5.0" height="11.8" fill="#F23645"/>
<line x1="1129.58" y1="389.5" x2="1129.58" y2="421.3" stroke="#F23645" stroke-width="1" opacity="0.55"/>
<rect x="1127.08" y="408.8" width="5.0" height="1.7" fill="#F23645"/>
<line x1="1137.28" y1="400.0" x2="1137.28" y2="413.0" stroke="#089981" stroke-width="1" opacity="0.55"/>
<rect x="1134.78" y="402.0" width="5.0" height="8.5" fill="#089981"/>
<line x1="1144.97" y1="391.3" x2="1144.97" y2="420.0" stroke="#F23645" stroke-width="1" opacity="0.55"/>
<rect x="1142.47" y="402.0" width="5.0" height="5.0" fill="#F23645"/>
<line x1="1152.66" y1="397.0" x2="1152.66" y2="417.5" stroke="#089981" stroke-width="1" opacity="0.55"/>
<rect x="1150.16" y="398.0" width="5.0" height="9.0" fill="#089981"/>
<line x1="1160.36" y1="378.0" x2="1160.36" y2="408.0" stroke="#F23645" stroke-width="1" opacity="0.55"/>
<rect x="1157.86" y="398.0" width="5.0" height="4.0" fill="#F23645"/>
<line x1="1168.05" y1="380.8" x2="1168.05" y2="410.2" stroke="#089981" stroke-width="1" opacity="0.55"/>
<rect x="1165.55" y="386.3" width="5.0" height="15.7" fill="#089981"/>
<line x1="1175.74" y1="381.9" x2="1175.74" y2="400.2" stroke="#F23645" stroke-width="1" opacity="0.55"/>
<rect x="1173.24" y="386.3" width="5.0" height="2.3" fill="#F23645"/>
<line x1="1183.44" y1="354.1" x2="1183.44" y2="389.9" stroke="#089981" stroke-width="1" opacity="0.55"/>
<rect x="1180.94" y="375.3" width="5.0" height="13.3" fill="#089981"/>
<line x1="1191.13" y1="358.6" x2="1191.13" y2="379.6" stroke="#F23645" stroke-width="1" opacity="0.55"/>
<rect x="1188.63" y="374.9" width="5.0" height="1" fill="#F23645" opacity="0.75"/>
<line x1="1198.82" y1="371.3" x2="1198.82" y2="386.3" stroke="#F23645" stroke-width="1" opacity="0.55"/>
<rect x="1196.32" y="375.3" width="5.0" height="9.3" fill="#F23645"/>
<line x1="1206.51" y1="379.6" x2="1206.51" y2="399.6" stroke="#F23645" stroke-width="1" opacity="0.55"/>
<rect x="1204.01" y="384.6" width="5.0" height="10.0" fill="#F23645"/>
<line x1="1214.21" y1="392.4" x2="1214.21" y2="416.5" stroke="#F23645" stroke-width="1" opacity="0.55"/>
<rect x="1211.71" y="394.6" width="5.0" height="9.1" fill="#F23645"/>
<line x1="1221.90" y1="398.2" x2="1221.90" y2="406.9" stroke="#089981" stroke-width="1" opacity="0.55"/>
<rect x="1219.40" y="399.1" width="5.0" height="4.6" fill="#089981"/>
<line x1="1229.59" y1="394.9" x2="1229.59" y2="405.2" stroke="#089981" stroke-width="1" opacity="0.55"/>
<rect x="1227.09" y="398.6" width="5.0" height="1" fill="#089981" opacity="0.75"/>
<line x1="1237.29" y1="389.9" x2="1237.29" y2="427.4" stroke="#F23645" stroke-width="1" opacity="0.55"/>
<rect x="1234.79" y="399.1" width="5.0" height="21.6" fill="#F23645"/>
<line x1="1244.98" y1="408.6" x2="1244.98" y2="420.7" stroke="#089981" stroke-width="1" opacity="0.55"/>
<rect x="1242.48" y="410.7" width="5.0" height="10.0" fill="#089981"/>
<line x1="1252.67" y1="409.5" x2="1252.67" y2="418.2" stroke="#F23645" stroke-width="1" opacity="0.55"/>
<rect x="1250.17" y="411.2" width="5.0" height="4.5" fill="#F23645"/>
<line x1="1260.37" y1="414.3" x2="1260.37" y2="467.5" stroke="#F23645" stroke-width="1" opacity="0.55"/>
<rect x="1257.87" y="416.2" width="5.0" height="45.6" fill="#F23645"/>
<line x1="1268.06" y1="455.5" x2="1268.06" y2="482.7" stroke="#089981" stroke-width="1" opacity="0.55"/>
<rect x="1265.56" y="460.1" width="5.0" height="1.7" fill="#089981"/>
<line x1="1275.75" y1="457.1" x2="1275.75" y2="482.2" stroke="#F23645" stroke-width="1" opacity="0.55"/>
<rect x="1273.25" y="460.5" width="5.0" height="11.4" fill="#F23645"/>
<line x1="1283.44" y1="460.5" x2="1283.44" y2="474.6" stroke="#089981" stroke-width="1" opacity="0.55"/>
<rect x="1280.94" y="467.0" width="5.0" height="4.9" fill="#089981"/>
<line x1="1291.14" y1="467.0" x2="1291.14" y2="502.3" stroke="#F23645" stroke-width="1" opacity="0.55"/>
<rect x="1288.64" y="467.0" width="5.0" height="7.2" fill="#F23645"/>
<line x1="1298.83" y1="464.3" x2="1298.83" y2="476.5" stroke="#089981" stroke-width="1" opacity="0.55"/>
<rect x="1296.33" y="467.0" width="5.0" height="7.2" fill="#089981"/>
<line x1="1306.52" y1="416.7" x2="1306.52" y2="473.8" stroke="#089981" stroke-width="1" opacity="0.55"/>
<rect x="1304.02" y="420.0" width="5.0" height="47.0" fill="#089981"/>
<line x1="1314.22" y1="419.0" x2="1314.22" y2="486.6" stroke="#F23645" stroke-width="1" opacity="0.55"/>
<rect x="1311.72" y="420.5" width="5.0" height="57.5" fill="#F23645"/>
<line x1="1321.91" y1="473.2" x2="1321.91" y2="499.9" stroke="#089981" stroke-width="1" opacity="0.55"/>
<rect x="1319.41" y="477.3" width="5.0" height="1" fill="#089981" opacity="0.75"/>
<line x1="1329.60" y1="467.0" x2="1329.60" y2="480.8" stroke="#089981" stroke-width="1" opacity="0.55"/>
<rect x="1327.10" y="469.4" width="5.0" height="8.6" fill="#089981"/>
<line x1="1337.30" y1="448.5" x2="1337.30" y2="477.6" stroke="#F23645" stroke-width="1" opacity="0.55"/>
<rect x="1334.80" y="469.4" width="5.0" height="4.8" fill="#F23645"/>
<line x1="1344.99" y1="464.3" x2="1344.99" y2="489.8" stroke="#F23645" stroke-width="1" opacity="0.55"/>
<rect x="1342.49" y="474.2" width="5.0" height="4.7" fill="#F23645"/>
<line x1="1352.68" y1="475.7" x2="1352.68" y2="488.5" stroke="#F23645" stroke-width="1" opacity="0.55"/>
<rect x="1350.18" y="478.9" width="5.0" height="9.0" fill="#F23645"/>
<line x1="1360.37" y1="484.6" x2="1360.37" y2="524.6" stroke="#F23645" stroke-width="1" opacity="0.55"/>
<rect x="1357.87" y="487.1" width="5.0" height="34.6" fill="#F23645"/>
<line x1="1368.07" y1="503.1" x2="1368.07" y2="545.5" stroke="#F23645" stroke-width="1" opacity="0.55"/>
<rect x="1365.57" y="521.7" width="5.0" height="20.0" fill="#F23645"/>
<line x1="1375.76" y1="529.0" x2="1375.76" y2="556.4" stroke="#089981" stroke-width="1" opacity="0.55"/>
<rect x="1373.26" y="531.3" width="5.0" height="10.4" fill="#089981"/>
</g>
<text x="255.10" y="312.1" font-size="14" fill="#2962FF" font-weight="bold" textLength="90.10" lengthAdjust="spacing">100-day SMA</text>
<text x="254.30" y="413.2" font-size="15.5" fill="#2962FF" font-weight="bold" textLength="162.80" lengthAdjust="spacing">Major daily resistance</text>
<text x="9.15" y="19.2" font-size="12" fill="#131722" stroke="#131722" stroke-width="0.2" textLength="384.95" lengthAdjust="spacing">kanguhalubale published on TradingView.com, Mar 11, 2025 12:08 UTC</text>
<text x="17.00" y="45" font-size="11.8" fill="#131722" stroke="#131722" stroke-width="0.2" textLength="204.60" lengthAdjust="spacing">Dogecoin / US Dollar · 1D · COINBASE</text>
<text x="228.10" y="45" font-size="11.8" fill="#131722" stroke="#131722" stroke-width="0.2">O</text>
<text x="236.40" y="45" font-size="11.8" fill="#089981" stroke="#089981" stroke-width="0.2" textLength="44.50" lengthAdjust="spacing">0.15398</text>
<text x="287.40" y="45" font-size="11.8" fill="#131722" stroke="#131722" stroke-width="0.2">H</text>
<text x="295.40" y="45" font-size="11.8" fill="#089981" stroke="#089981" stroke-width="0.2" textLength="44.00" lengthAdjust="spacing">0.16270</text>
<text x="346.20" y="45" font-size="11.8" fill="#131722" stroke="#131722" stroke-width="0.2">L</text>
<text x="352.40" y="45" font-size="11.8" fill="#089981" stroke="#089981" stroke-width="0.2" textLength="43.60" lengthAdjust="spacing">0.14270</text>
<text x="401.70" y="45" font-size="11.8" fill="#131722" stroke="#131722" stroke-width="0.2">C</text>
<text x="410.00" y="45" font-size="11.8" fill="#089981" stroke="#089981" stroke-width="0.2" textLength="43.00" lengthAdjust="spacing">0.16102</text>
<text x="458.70" y="45" font-size="11.8" fill="#089981" stroke="#089981" stroke-width="0.2" textLength="107.20" lengthAdjust="spacing">+0.00706 (+4.59%)</text>
<text x="17.00" y="61.2" font-size="11.8" fill="#131722" stroke="#131722" stroke-width="0.2" textLength="217.80" lengthAdjust="spacing">SMAs (50, close, 100, close, 200, close)</text>
<text x="241.30" y="61.2" font-size="11.8" fill="#F2F200" stroke="#F2F200" stroke-width="0.2" textLength="42.90" lengthAdjust="spacing">0.25781</text>
<text x="290.70" y="61.2" font-size="11.8" fill="#880E0E" stroke="#880E0E" stroke-width="0.2" textLength="44.20" lengthAdjust="spacing">0.31293</text>
<text x="340.60" y="61.2" font-size="11.8" fill="#9C27B0" stroke="#9C27B0" stroke-width="0.2" textLength="42.30" lengthAdjust="spacing">0.24711</text>
<rect x="1521.8" y="29.5" width="65.4" height="24.6" rx="4" fill="#fff" stroke="#EEF0F3"/>
<text x="1529.60" y="45.3" font-size="12" fill="#131722" stroke="#131722" stroke-width="0.2" textLength="24.60" lengthAdjust="spacing">USD</text>
<text x="1526.20" y="127.7" font-size="11.7" fill="#2A2E39" font-weight="500" textLength="47.30" lengthAdjust="spacing">0.45000</text>
<text x="1526.20" y="198.2" font-size="11.7" fill="#2A2E39" font-weight="500" textLength="47.30" lengthAdjust="spacing">0.40000</text>
<text x="1526.20" y="268.7" font-size="11.7" fill="#2A2E39" font-weight="500" textLength="47.30" lengthAdjust="spacing">0.35000</text>
<text x="1526.20" y="339.2" font-size="11.7" fill="#2A2E39" font-weight="500" textLength="47.30" lengthAdjust="spacing">0.30000</text>
<text x="1526.20" y="480.2" font-size="11.7" fill="#2A2E39" font-weight="500" textLength="47.30" lengthAdjust="spacing">0.20000</text>
<text x="1526.20" y="691.7" font-size="11.7" fill="#2A2E39" font-weight="500" textLength="47.30" lengthAdjust="spacing">0.05000</text>
<text x="1526.20" y="762.2" font-size="11.7" fill="#2A2E39" font-weight="500" textLength="47.30" lengthAdjust="spacing">0.00000</text>
<path d="M1518.2,293.75 H1576.2 Q1578.2,293.75 1578.2,295.75 V307.5 Q1578.2,309.5 1576.2,309.5 H1518.2 Z" fill="#880000"/>
<text x="1526.40" y="305.9" font-size="12" fill="#fff" textLength="47.60" lengthAdjust="spacing">0.31293</text>
<path d="M1518.2,310.0 H1576.2 Q1578.2,310.0 1578.2,312.0 V323.3 Q1578.2,325.3 1576.2,325.3 H1518.2 Z" fill="#454A57"/>
<text x="1526.40" y="321.9" font-size="12" fill="#fff" textLength="47.60" lengthAdjust="spacing">0.31258</text>
<path d="M1518.2,363.2 H1576.2 Q1578.2,363.2 1578.2,365.2 V377.0 Q1578.2,379.0 1576.2,379.0 H1518.2 Z" fill="#2962FF"/>
<text x="1526.40" y="375.4" font-size="12" fill="#fff" textLength="47.60" lengthAdjust="spacing">0.26000</text>
<path d="M1518.2,379.0 H1576.2 Q1578.2,379.0 1578.2,381.0 V393.0 Q1578.2,395.0 1576.2,395.0 H1518.2 Z" fill="#FFFF00"/>
<text x="1526.40" y="391.3" font-size="12" fill="#131722" stroke="#131722" stroke-width="0.2" textLength="47.60" lengthAdjust="spacing">0.25781</text>
<path d="M1518.2,395.0 H1576.2 Q1578.2,395.0 1578.2,397.0 V409.0 Q1578.2,411.0 1576.2,411.0 H1518.2 Z" fill="#800080"/>
<text x="1526.40" y="407.3" font-size="12" fill="#fff" textLength="47.60" lengthAdjust="spacing">0.24711</text>
<path d="M1518.2,411.0 H1576.2 Q1578.2,411.0 1578.2,413.0 V425.8 Q1578.2,427.8 1576.2,427.8 H1518.2 Z" fill="#2962FF"/>
<text x="1526.40" y="423.7" font-size="12" fill="#fff" textLength="47.60" lengthAdjust="spacing">0.24000</text>
<path d="M1518.2,609.5 H1576.2 Q1578.2,609.5 1578.2,611.5 V623.2 Q1578.2,625.2 1576.2,625.2 H1518.2 Z" fill="#454A57"/>
<text x="1526.40" y="621.6" font-size="12" fill="#fff" textLength="47.60" lengthAdjust="spacing">0.10000</text>
<path d="M1518.2,523 H1580 Q1582,523 1582,525 V550 Q1582,552 1580,552 H1518.2 Z" fill="#089981"/>
<text x="1526.40" y="535.5" font-size="12" fill="#fff" textLength="47.60" lengthAdjust="spacing">0.16102</text>
<text x="1528.10" y="548.3" font-size="12" fill="#fff" textLength="49.30" lengthAdjust="spacing">11:51:18</text>
<text x="137.2" y="798.8" font-size="12" fill="#131722" stroke="#131722" stroke-width="0.2" text-anchor="middle">Oct</text>
<text x="375.7" y="798.8" font-size="12" fill="#131722" stroke="#131722" stroke-width="0.2" text-anchor="middle">Nov</text>
<text x="606.3" y="798.8" font-size="12" fill="#131722" stroke="#131722" stroke-width="0.2" text-anchor="middle">Dec</text>
<text x="828.90" y="798.8" font-size="12" fill="#131722" font-weight="bold" textLength="31.50" lengthAdjust="spacing">2025</text>
<text x="1083.3" y="798.8" font-size="12" fill="#131722" stroke="#131722" stroke-width="0.2" text-anchor="middle">Feb</text>
<text x="1298.6" y="798.8" font-size="12" fill="#131722" stroke="#131722" stroke-width="0.2" text-anchor="middle">Mar</text>
<g transform="translate(9.4,816.6) scale(0.52)" fill="#000"><path d="M14 22H7V11H0V4h14v18zM28 22h-8l7.5-18h8L28 22z"/><circle cx="20" cy="8" r="4"/></g>
<text x="31.70" y="828.6" font-size="12.6" fill="#131722" stroke="#131722" stroke-width="0.2" textLength="71.50" lengthAdjust="spacing">TradingView</text>
<g><circle cx="1376.3" cy="744.2" r="9.3" fill="none" stroke="#8E24AA" stroke-width="1.5" stroke-dasharray="49.83 8.60" stroke-dashoffset="-31.65"/><path d="M1378.6,739.7 L1372.8,744.4 L1379,744.2 L1373.4,748.9" fill="none" stroke="#8E24AA" stroke-width="1.6" stroke-linejoin="round" stroke-linecap="round"/><path d="M1365.5,742.9 Q1366.6,746.5 1370.2,747.6 Q1366.6,748.7 1365.5,752.4 Q1364.4,748.7 1360.8,747.6 Q1364.4,746.5 1365.5,742.9 Z" fill="#7C4DFF"/></g>
<g><circle cx="1398.5" cy="768.1" r="9.4" fill="#fff" stroke="#F23645" stroke-width="1.4"/><clipPath id="fc0"><circle cx="1398.9" cy="768.1" r="7.7"/></clipPath><g clip-path="url(#fc0)"><rect x="1390.5" y="760.6" width="17" height="3.1" fill="#F44336"/><rect x="1390.5" y="766.4" width="17" height="3.4" fill="#F44336"/><rect x="1390.5" y="772.3" width="17" height="3.4" fill="#F44336"/><rect x="1390.5" y="760" width="10.1" height="10" fill="#1E88E5"/><circle cx="1392.9" cy="762.1" r="0.55" fill="#fff" opacity="0.85"/><circle cx="1392.9" cy="764.8" r="0.55" fill="#fff" opacity="0.85"/><circle cx="1392.9" cy="767.5" r="0.55" fill="#fff" opacity="0.85"/><circle cx="1395.5" cy="762.1" r="0.55" fill="#fff" opacity="0.85"/><circle cx="1395.5" cy="764.8" r="0.55" fill="#fff" opacity="0.85"/><circle cx="1395.5" cy="767.5" r="0.55" fill="#fff" opacity="0.85"/><circle cx="1398.1" cy="762.1" r="0.55" fill="#fff" opacity="0.85"/><circle cx="1398.1" cy="764.8" r="0.55" fill="#fff" opacity="0.85"/><circle cx="1398.1" cy="767.5" r="0.55" fill="#fff" opacity="0.85"/></g></g><g><circle cx="1390.7" cy="768.1" r="9.4" fill="#fff" stroke="#F23645" stroke-width="1.4"/><clipPath id="fc1"><circle cx="1391.1000000000001" cy="768.1" r="7.7"/></clipPath><g clip-path="url(#fc1)"><rect x="1382.7" y="760.6" width="17" height="3.1" fill="#F44336"/><rect x="1382.7" y="766.4" width="17" height="3.4" fill="#F44336"/><rect x="1382.7" y="772.3" width="17" height="3.4" fill="#F44336"/><rect x="1382.7" y="760" width="10.1" height="10" fill="#1E88E5"/><circle cx="1385.1" cy="762.1" r="0.55" fill="#fff" opacity="0.85"/><circle cx="1385.1" cy="764.8" r="0.55" fill="#fff" opacity="0.85"/><circle cx="1385.1" cy="767.5" r="0.55" fill="#fff" opacity="0.85"/><circle cx="1387.7" cy="762.1" r="0.55" fill="#fff" opacity="0.85"/><circle cx="1387.7" cy="764.8" r="0.55" fill="#fff" opacity="0.85"/><circle cx="1387.7" cy="767.5" r="0.55" fill="#fff" opacity="0.85"/><circle cx="1390.3" cy="762.1" r="0.55" fill="#fff" opacity="0.85"/><circle cx="1390.3" cy="764.8" r="0.55" fill="#fff" opacity="0.85"/><circle cx="1390.3" cy="767.5" r="0.55" fill="#fff" opacity="0.85"/></g></g><g><circle cx="1382.9" cy="768.1" r="9.4" fill="#fff" stroke="#F23645" stroke-width="1.4"/><clipPath id="fc2"><circle cx="1383.3000000000002" cy="768.1" r="7.7"/></clipPath><g clip-path="url(#fc2)"><rect x="1374.9" y="760.6" width="17" height="3.1" fill="#F44336"/><rect x="1374.9" y="766.4" width="17" height="3.4" fill="#F44336"/><rect x="1374.9" y="772.3" width="17" height="3.4" fill="#F44336"/><rect x="1374.9" y="760" width="10.1" height="10" fill="#1E88E5"/><circle cx="1377.3" cy="762.1" r="0.55" fill="#fff" opacity="0.85"/><circle cx="1377.3" cy="764.8" r="0.55" fill="#fff" opacity="0.85"/><circle cx="1377.3" cy="767.5" r="0.55" fill="#fff" opacity="0.85"/><circle cx="1379.9" cy="762.1" r="0.55" fill="#fff" opacity="0.85"/><circle cx="1379.9" cy="764.8" r="0.55" fill="#fff" opacity="0.85"/><circle cx="1379.9" cy="767.5" r="0.55" fill="#fff" opacity="0.85"/><circle cx="1382.5" cy="762.1" r="0.55" fill="#fff" opacity="0.85"/><circle cx="1382.5" cy="764.8" r="0.55" fill="#fff" opacity="0.85"/><circle cx="1382.5" cy="767.5" r="0.55" fill="#fff" opacity="0.85"/></g></g><g><circle cx="1375.1" cy="768.1" r="9.4" fill="#fff" stroke="#F23645" stroke-width="1.4"/><clipPath id="fc3"><circle cx="1375.5" cy="768.1" r="7.7"/></clipPath><g clip-path="url(#fc3)"><rect x="1367.1" y="760.6" width="17" height="3.1" fill="#F44336"/><rect x="1367.1" y="766.4" width="17" height="3.4" fill="#F44336"/><rect x="1367.1" y="772.3" width="17" height="3.4" fill="#F44336"/><rect x="1367.1" y="760" width="10.1" height="10" fill="#1E88E5"/><circle cx="1369.5" cy="762.1" r="0.55" fill="#fff" opacity="0.85"/><circle cx="1369.5" cy="764.8" r="0.55" fill="#fff" opacity="0.85"/><circle cx="1369.5" cy="767.5" r="0.55" fill="#fff" opacity="0.85"/><circle cx="1372.1" cy="762.1" r="0.55" fill="#fff" opacity="0.85"/><circle cx="1372.1" cy="764.8" r="0.55" fill="#fff" opacity="0.85"/><circle cx="1372.1" cy="767.5" r="0.55" fill="#fff" opacity="0.85"/><circle cx="1374.7" cy="762.1" r="0.55" fill="#fff" opacity="0.85"/><circle cx="1374.7" cy="764.8" r="0.55" fill="#fff" opacity="0.85"/><circle cx="1374.7" cy="767.5" r="0.55" fill="#fff" opacity="0.85"/></g></g>
</svg>
</body></html>
